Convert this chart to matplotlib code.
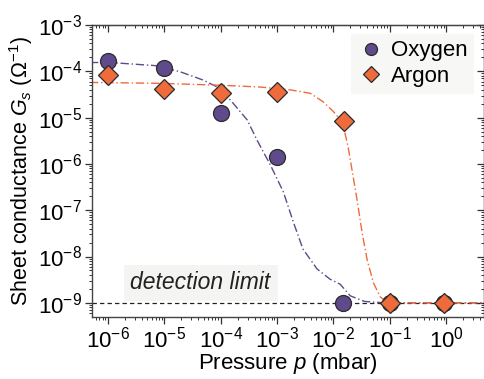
import numpy as np
import matplotlib
matplotlib.use('Agg')
import matplotlib.pyplot as plt
from matplotlib.ticker import FixedLocator, NullFormatter

plt.rcParams['font.family'] = ['Liberation Sans', 'DejaVu Sans']
plt.rcParams['mathtext.fontset'] = 'custom'
plt.rcParams['mathtext.rm'] = 'Liberation Sans'
plt.rcParams['mathtext.it'] = 'Liberation Sans:italic'

purple = '#5f4a8b'
orange = '#ef6b3b'

# measured points (pressure in mbar, sheet conductance in 1/Ohm)
oxy_p = [1e-6, 1e-5, 1e-4, 1e-3, 1.5e-2, 1e-1, 9e-1]
oxy_g = [1.66e-4, 1.18e-4, 1.26e-5, 1.4e-6, 1e-9, 1e-9, 1e-9]
arg_p = [1e-6, 1e-5, 1e-4, 1e-3, 1.55e-2, 1e-1, 9e-1]
arg_g = [8.3e-5, 4.2e-5, 3.4e-5, 3.6e-5, 8.5e-6, 1e-9, 1e-9]

# fit curves (log10 p, log10 G)
oxy_fit_logp = [-6.32, -5.96, -5.13, -4.72, -4.31, -4.01, -3.78, -3.53, -3.35, -3.12,
                -2.89, -2.71, -2.54, -2.29, -2.06, -1.88, -1.70, -1.45, -1.1, 0.7]
oxy_fit_logg = [-3.81, -3.81, -3.88, -4.01, -4.19, -4.37, -4.69, -5.05, -5.5, -6.02,
                -6.6, -7.26, -7.84, -8.27, -8.49, -8.6, -8.85, -8.97, -9.0, -9.0]
arg_fit_logp = [-6.32, -5.08, -4.01, -3.3, -2.77, -2.41, -2.18, -2.0, -1.84, -1.74,
                -1.67, -1.58, -1.49, -1.40, -1.29, -1.17, -1.04, -0.8, 0.7]
arg_fit_logg = [-4.24, -4.26, -4.30, -4.34, -4.40, -4.475, -4.66, -4.87, -5.1, -5.63,
                -6.13, -6.78, -7.49, -8.08, -8.57, -8.87, -9.0, -9.0, -9.0]

detection_limit = 1e-9

x_decades = list(range(-6, 1))
y_decades = list(range(-9, -2))
xlim = (5.2e-7, 4.7)
ylim = (5.06e-10, 1e-3)


def minor_ticks(lo, hi):
    vals = []
    for d in range(int(np.floor(np.log10(lo))), int(np.ceil(np.log10(hi))) + 1):
        for m in range(2, 10):
            v = m * 10.0 ** d
            if lo <= v <= hi:
                vals.append(v)
    return vals


fig = plt.figure(figsize=(4.85, 3.79), dpi=100)
ax = fig.add_axes([92 / 485, 1 - 316.5 / 379, (484 - 92) / 485, (316.5 - 25) / 379])

ax.axhline(detection_limit, color='#222222', lw=0.9, ls=(0, (3.5, 2.5)), zorder=1)

ax.plot(10 ** np.array(oxy_fit_logp), 10 ** np.array(oxy_fit_logg), color=purple,
        lw=1.0, ls=(0, (6, 2, 1, 2)), zorder=2)
ax.plot(10 ** np.array(arg_fit_logp), 10 ** np.array(arg_fit_logg), color=orange,
        lw=1.0, ls=(0, (6, 2, 1, 2)), zorder=2)

ax.plot(oxy_p, oxy_g, 'o', color=purple, mec='#2b2b2b', mew=0.9, ms=11.5,
        zorder=3, label='Oxygen')
ax.plot(arg_p, arg_g, 'D', color=orange, mec='#2b2b2b', mew=0.9, ms=10.5,
        zorder=4, label='Argon')

ax.set_xscale('log')
ax.set_yscale('log')
ax.set_xlim(*xlim)
ax.set_ylim(*ylim)

xmaj = [10.0 ** d for d in x_decades]
ymaj = [10.0 ** d for d in y_decades]
xmin_t = minor_ticks(*xlim)
ymin_t = minor_ticks(*ylim)

ax.set_xticks(xmaj)
ax.set_xticklabels(['$10^{%d}$' % d for d in x_decades])
ax.set_yticks(ymaj)
ax.set_yticklabels(['$10^{%d}$' % d for d in y_decades])
ax.xaxis.set_minor_locator(FixedLocator(xmin_t))
ax.yaxis.set_minor_locator(FixedLocator(ymin_t))
ax.xaxis.set_minor_formatter(NullFormatter())
ax.yaxis.set_minor_formatter(NullFormatter())

ax.tick_params(which='major', direction='out', length=5, width=0.9, labelsize=16,
               color='#333333', pad=2)
ax.tick_params(which='minor', direction='out', length=2.5, width=0.7, color='#333333')

for spine in ax.spines.values():
    spine.set_color('#444444')
    spine.set_linewidth(1.0)

# inward ticks on the top and right edges, no labels
top = ax.secondary_xaxis('top')
top.set_xticks(xmaj)
top.xaxis.set_minor_locator(FixedLocator(xmin_t))
top.xaxis.set_major_formatter(NullFormatter())
top.xaxis.set_minor_formatter(NullFormatter())
top.tick_params(which='major', direction='in', length=5, width=0.9, color='#333333')
top.tick_params(which='minor', direction='in', length=2.5, width=0.7, color='#333333')

right = ax.secondary_yaxis('right')
right.set_yticks(ymaj)
right.yaxis.set_minor_locator(FixedLocator(ymin_t))
right.yaxis.set_major_formatter(NullFormatter())
right.yaxis.set_minor_formatter(NullFormatter())
right.tick_params(which='major', direction='in', length=5, width=0.9, color='#333333')
right.tick_params(which='minor', direction='in', length=2.5, width=0.7, color='#333333')

ax.set_xlabel('Pressure $p$ (mbar)', fontsize=16, labelpad=-1)
ax.set_ylabel('Sheet conductance $G_s$ ($\\Omega^{-1}$)', fontsize=15.5, labelpad=2)

ax.text(0.277, 0.115, 'detection limit', transform=ax.transAxes, fontsize=16.5,
        style='italic', ha='center', va='center', color='#222222',
        bbox=dict(boxstyle='square,pad=0.3', fc='#f4f4f2', ec='none'))

leg = ax.legend(loc='upper right', bbox_to_anchor=(0.975, 0.97), fontsize=16,
                frameon=True, fancybox=False, framealpha=1, handletextpad=0.3,
                borderpad=0.3, labelspacing=0.2, handlelength=1.2, markerscale=0.75,
                borderaxespad=0)
leg.get_frame().set_facecolor('#f7f7f5')
leg.get_frame().set_edgecolor('none')

fig.savefig('out.png', dpi=100)
